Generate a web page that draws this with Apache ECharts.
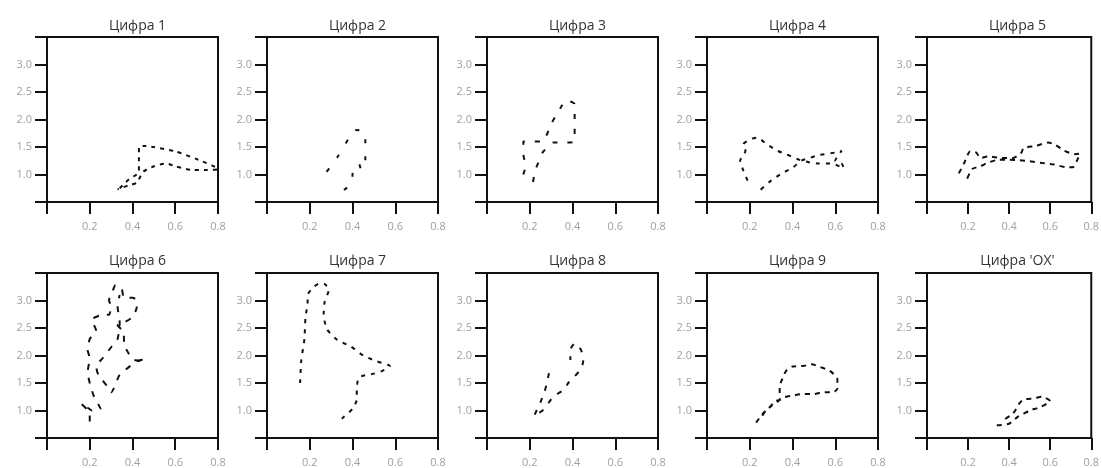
<!DOCTYPE html>
<html>
<head>
<meta charset="utf-8">
<script src="https://cdn.jsdelivr.net/npm/echarts@6/dist/echarts.min.js"></script>
<style>
  html, body { margin: 0; padding: 0; background: #fff; }
  #chart { width: 1102px; height: 468px; }
</style>
</head>
<body>
<div id="chart"></div>
<script>
  // panel titles
  let titles = ['Цифра 1', 'Цифра 2', 'Цифра 3', 'Цифра 4', 'Цифра 5',
                'Цифра 6', 'Цифра 7', 'Цифра 8', 'Цифра 9', "Цифра 'OX'"];

  // tick labels that are shown
  let xTickLabels = ['0.2', '0.4', '0.6', '0.8'];
  let yTickLabels = ['1.0', '1.5', '2.0', '2.5', '3.0'];

  // trajectories [x, y]
  let digit1 = [[0.34,0.75],[0.38,0.9],[0.42,1.0],[0.43,1.05],[0.43,1.25],[0.43,1.5],[0.45,1.52],[0.5,1.5],
    [0.6,1.42],[0.7,1.28],[0.8,1.1],[0.75,1.08],[0.68,1.08],[0.6,1.15],[0.56,1.2],[0.5,1.15],[0.45,1.05],
    [0.42,0.85],[0.38,0.8],[0.33,0.73]];
  let digit2 = [[0.36,0.72],[0.4,0.86],[0.4,1.0],[0.41,1.15],[0.43,1.2],[0.44,1.1],[0.46,1.12],[0.46,1.4],
    [0.46,1.75],[0.44,1.8],[0.41,1.81],[0.38,1.64],[0.33,1.32],[0.26,0.95]];
  let digit3 = [[0.17,1.0],[0.18,1.15],[0.17,1.38],[0.17,1.6],[0.2,1.6],[0.26,1.6],[0.3,1.92],[0.35,2.25],
    [0.37,2.35],[0.41,2.28],[0.41,1.95],[0.41,1.6],[0.35,1.58],[0.31,1.58],[0.26,1.4],[0.25,1.3],
    [0.225,1.07],[0.215,0.85]];
  let digit4 = [[0.19,0.89],[0.17,1.07],[0.155,1.25],[0.18,1.43],[0.17,1.55],[0.21,1.65],[0.235,1.67],
    [0.28,1.55],[0.33,1.43],[0.37,1.37],[0.43,1.27],[0.48,1.22],[0.52,1.2],[0.58,1.2],[0.62,1.15],
    [0.64,1.12],[0.63,1.2],[0.6,1.25],[0.63,1.43],[0.6,1.4],[0.52,1.35],[0.48,1.3],[0.44,1.25],
    [0.4,1.12],[0.35,1.02],[0.29,0.86],[0.25,0.72]];
  let digit5 = [[0.155,1.02],[0.18,1.2],[0.21,1.42],[0.24,1.4],[0.26,1.3],[0.3,1.33],[0.36,1.3],[0.42,1.3],
    [0.46,1.4],[0.47,1.48],[0.53,1.52],[0.59,1.58],[0.62,1.55],[0.67,1.43],[0.72,1.37],[0.745,1.38],
    [0.73,1.25],[0.71,1.13],[0.68,1.13],[0.62,1.18],[0.56,1.21],[0.5,1.24],[0.45,1.26],[0.4,1.27],
    [0.35,1.27],[0.3,1.22],[0.26,1.15],[0.22,1.1],[0.195,0.92]];
  let digit6 = [[0.2,0.8],[0.2,0.95],[0.16,1.12],[0.19,1.05],[0.21,1.0],[0.25,1.03],[0.22,1.25],[0.2,1.5],
    [0.19,1.7],[0.2,1.95],[0.19,2.1],[0.2,2.3],[0.23,2.45],[0.21,2.65],[0.26,2.74],[0.29,2.74],[0.3,2.9],
    [0.29,3.0],[0.31,3.2],[0.32,3.28],[0.35,3.2],[0.36,3.05],[0.4,3.05],[0.42,3.0],[0.42,2.88],[0.4,2.7],
    [0.36,2.6],[0.33,2.55],[0.36,2.42],[0.36,2.2],[0.38,2.05],[0.4,1.93],[0.44,1.9],[0.46,1.93],
    [0.42,1.9],[0.38,1.78],[0.34,1.65],[0.3,1.33],[0.28,1.45],[0.24,1.65],[0.23,1.8],[0.26,1.95],
    [0.3,2.15],[0.33,2.3],[0.34,2.6],[0.33,2.9],[0.34,3.1]];
  let digit7 = [[0.155,1.5],[0.16,1.9],[0.175,2.3],[0.18,2.7],[0.19,2.95],[0.19,3.1],[0.22,3.25],[0.25,3.32],
    [0.27,3.3],[0.29,3.2],[0.27,2.98],[0.265,2.75],[0.28,2.48],[0.33,2.28],[0.39,2.17],[0.45,2.0],
    [0.51,1.9],[0.575,1.81],[0.54,1.72],[0.5,1.67],[0.47,1.65],[0.43,1.6],[0.42,1.4],[0.42,1.2],
    [0.4,1.03],[0.35,0.85]];
  let digit8 = [[0.29,1.68],[0.28,1.5],[0.27,1.35],[0.25,1.15],[0.22,0.9],[0.24,0.95],[0.26,1.0],[0.29,1.15],
    [0.31,1.25],[0.36,1.38],[0.38,1.5],[0.41,1.62],[0.44,1.76],[0.45,1.9],[0.44,2.1],[0.41,2.22],
    [0.39,2.1],[0.39,1.92]];
  let digit9 = [[0.23,0.78],[0.26,0.94],[0.29,1.05],[0.32,1.17],[0.34,1.2],[0.34,1.45],[0.35,1.55],[0.37,1.72],
    [0.4,1.8],[0.45,1.81],[0.49,1.84],[0.53,1.79],[0.575,1.72],[0.61,1.57],[0.61,1.4],[0.59,1.33],
    [0.54,1.33],[0.5,1.3],[0.45,1.3],[0.4,1.27],[0.36,1.24],[0.33,1.16],[0.3,1.08],[0.27,0.97],[0.25,0.85]];
  let digitOX = [[0.34,0.73],[0.4,0.76],[0.44,0.88],[0.47,0.94],[0.5,1.0],[0.55,1.06],[0.6,1.17],[0.56,1.25],
    [0.52,1.22],[0.47,1.2],[0.45,1.13],[0.42,0.95],[0.37,0.82]];

  let digits = [digit1, digit2, digit3, digit4, digit5, digit6, digit7, digit8, digit9, digitOX];

  // dash pattern of each panel (the original strokes are broken up differently)
  let dashes = [[4, 5], [4, 13], [5, 10], [4, 6], [5, 5], [6, 8], [4, 6], [5, 8], [5, 5], [5, 5]];

  let dom = document.getElementById('chart');
  let myChart = echarts.init(dom);

  let grids = [], xAxes = [], yAxes = [], series = [], titleList = [];
  let font = 'Open Sans';

  for (let i = 0; i < 10; i++) {
    let col = i % 5;
    let row = Math.floor(i / 5);
    let left = 47 + col * 220;
    let top = row === 0 ? 37 : 273;
    let width = 171;
    let height = row === 0 ? 165 : 166;

    grids.push({
      left: left, top: top, width: width, height: height,
      show: true, borderColor: '#111', borderWidth: 2, backgroundColor: 'transparent'
    });
    titleList.push({
      text: titles[i],
      left: left + width / 2,
      top: row === 0 ? 14 : 249,
      textAlign: 'center',
      textStyle: { fontFamily: font, fontSize: 14, fontWeight: 'normal', color: '#333' }
    });
    xAxes.push({
      type: 'value', gridIndex: i,
      min: 0, max: 0.8, interval: 0.2,
      splitLine: { show: false },
      axisLine: { onZero: false, lineStyle: { color: '#111', width: 2 } },
      axisTick: { length: 12, lineStyle: { color: '#111', width: 2 } },
      axisLabel: {
        margin: 19, fontFamily: font, fontSize: 11, color: '#a0a0a0',
        formatter: function (value) {
          let s = value.toFixed(1);
          return xTickLabels.indexOf(s) >= 0 ? s : '';
        }
      }
    });
    yAxes.push({
      type: 'value', gridIndex: i,
      min: 0.5, max: 3.5, interval: 0.5,
      splitLine: { show: false },
      axisLine: { onZero: false, lineStyle: { color: '#111', width: 2 } },
      axisTick: { length: 12, lineStyle: { color: '#111', width: 2 } },
      axisLabel: {
        margin: 15, fontFamily: font, fontSize: 11, color: '#a0a0a0',
        formatter: function (value) {
          let s = value.toFixed(1);
          return yTickLabels.indexOf(s) >= 0 ? s : '';
        }
      }
    });
    series.push({
      type: 'line', name: titles[i],
      xAxisIndex: i, yAxisIndex: i,
      data: digits[i],
      symbol: 'none',
      smooth: 0.2,
      lineStyle: { color: '#111', width: 2, type: dashes[i] }
    });
  }

  let option = {
    backgroundColor: '#fff',
    animation: false,
    title: titleList,
    grid: grids,
    xAxis: xAxes,
    yAxis: yAxes,
    series: series
  };
  myChart.setOption(option, true);
</script>
</body>
</html>
